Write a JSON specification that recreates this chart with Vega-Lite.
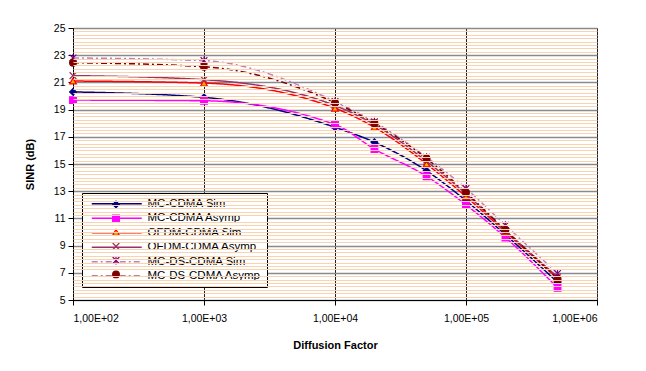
{
  "$schema": "https://vega.github.io/schema/vega-lite/v6.json",
  "width": 524,
  "height": 272,
  "autosize": {"type": "none"},
  "padding": {"left": 73, "top": 28, "right": 49, "bottom": 71},
  "background": "white",
  "config": {
    "font": "Liberation Sans",
    "view": {"stroke": "#808080", "strokeWidth": 1},
    "axis": {
      "labelFont": "Liberation Sans",
      "titleFont": "Liberation Sans",
      "labelColor": "#000000",
      "titleColor": "#000000",
      "labelFontSize": 10.5,
      "titleFontSize": 11,
      "titleFontWeight": "bold",
      "tickColor": "#000000",
      "domainColor": "#000000"
    }
  },
  "data": {
    "values": [
      {"s": "MC-CDMA Sim", "x": 100, "y": 20.3},
      {"s": "MC-CDMA Sim", "x": 1000, "y": 19.9},
      {"s": "MC-CDMA Sim", "x": 10000, "y": 17.7},
      {"s": "MC-CDMA Sim", "x": 20000, "y": 16.6},
      {"s": "MC-CDMA Sim", "x": 50000, "y": 14.5},
      {"s": "MC-CDMA Sim", "x": 100000, "y": 12.3},
      {"s": "MC-CDMA Sim", "x": 200000, "y": 9.8},
      {"s": "MC-CDMA Sim", "x": 500000, "y": 6.3},
      {"s": "MC-CDMA Asymp", "x": 100, "y": 19.7},
      {"s": "MC-CDMA Asymp", "x": 1000, "y": 19.65},
      {"s": "MC-CDMA Asymp", "x": 10000, "y": 17.9},
      {"s": "MC-CDMA Asymp", "x": 20000, "y": 16.1},
      {"s": "MC-CDMA Asymp", "x": 50000, "y": 14.1},
      {"s": "MC-CDMA Asymp", "x": 100000, "y": 12.0},
      {"s": "MC-CDMA Asymp", "x": 200000, "y": 9.6},
      {"s": "MC-CDMA Asymp", "x": 500000, "y": 5.9},
      {"s": "OFDM-CDMA Sim", "x": 100, "y": 21.1},
      {"s": "OFDM-CDMA Sim", "x": 1000, "y": 20.95},
      {"s": "OFDM-CDMA Sim", "x": 10000, "y": 19.1},
      {"s": "OFDM-CDMA Sim", "x": 20000, "y": 17.7},
      {"s": "OFDM-CDMA Sim", "x": 50000, "y": 15.0},
      {"s": "OFDM-CDMA Sim", "x": 100000, "y": 12.6},
      {"s": "OFDM-CDMA Sim", "x": 200000, "y": 10.0},
      {"s": "OFDM-CDMA Sim", "x": 500000, "y": 6.6},
      {"s": "OFDM-CDMA Asymp", "x": 100, "y": 21.5},
      {"s": "OFDM-CDMA Asymp", "x": 1000, "y": 21.2},
      {"s": "OFDM-CDMA Asymp", "x": 10000, "y": 19.3},
      {"s": "OFDM-CDMA Asymp", "x": 20000, "y": 17.9},
      {"s": "OFDM-CDMA Asymp", "x": 50000, "y": 15.2},
      {"s": "OFDM-CDMA Asymp", "x": 100000, "y": 12.8},
      {"s": "OFDM-CDMA Asymp", "x": 200000, "y": 10.1},
      {"s": "OFDM-CDMA Asymp", "x": 500000, "y": 6.7},
      {"s": "MC-DS-CDMA Sim", "x": 100, "y": 22.8},
      {"s": "MC-DS-CDMA Sim", "x": 1000, "y": 22.6},
      {"s": "MC-DS-CDMA Sim", "x": 10000, "y": 19.6},
      {"s": "MC-DS-CDMA Sim", "x": 20000, "y": 18.1},
      {"s": "MC-DS-CDMA Sim", "x": 50000, "y": 15.5},
      {"s": "MC-DS-CDMA Sim", "x": 100000, "y": 13.2},
      {"s": "MC-DS-CDMA Sim", "x": 200000, "y": 10.5},
      {"s": "MC-DS-CDMA Sim", "x": 500000, "y": 6.95},
      {"s": "MC-DS-CDMA Asymp", "x": 100, "y": 22.45},
      {"s": "MC-DS-CDMA Asymp", "x": 1000, "y": 22.15},
      {"s": "MC-DS-CDMA Asymp", "x": 10000, "y": 19.5},
      {"s": "MC-DS-CDMA Asymp", "x": 20000, "y": 18.0},
      {"s": "MC-DS-CDMA Asymp", "x": 50000, "y": 15.4},
      {"s": "MC-DS-CDMA Asymp", "x": 100000, "y": 12.9},
      {"s": "MC-DS-CDMA Asymp", "x": 200000, "y": 10.15},
      {"s": "MC-DS-CDMA Asymp", "x": 500000, "y": 6.55}
    ]
  },
  "resolve": {"axis": {"y": "independent", "x": "independent"}},
  "layer": [
    {
      "mark": {"type": "line", "strokeWidth": 1.5, "interpolate": "monotone"},
      "encoding": {
        "x": {
          "field": "x",
          "type": "quantitative",
          "scale": {"type": "log", "domain": [100, 1000000]},
          "axis": {
            "values": [100, 1000, 10000, 100000, 1000000],
            "labelExpr": "'1,00E+0' + round(log(datum.value) / LN10)",
            "grid": true,
            "gridColor": "#222222",
            "gridWidth": 1,
            "tickSize": 5,
            "labelPadding": 8,
            "title": "Diffusion Factor",
            "titleY": 39,
            "titleBaseline": "top"
          }
        },
        "y": {
          "field": "y",
          "type": "quantitative",
          "scale": {"domain": [5, 25], "nice": false, "zero": false},
          "axis": {
            "values": [5, 7, 9, 11, 13, 15, 17, 19, 21, 23, 25],
            "grid": true,
            "gridColor": "#8a8a8a",
            "gridWidth": 1.3,
            "tickSize": 5,
            "labelPadding": 3,
            "title": "SINR (dB)",
            "titleX": -43,
            "titleBaseline": "middle"
          }
        },
        "color": {
          "field": "s",
          "type": "nominal",
          "scale": {
            "domain": ["MC-CDMA Sim", "MC-CDMA Asymp", "OFDM-CDMA Sim", "OFDM-CDMA Asymp", "MC-DS-CDMA Sim", "MC-DS-CDMA Asymp"],
            "range": ["#000080", "#FF00FF", "#FF0000", "#993366", "#C080C0", "#800000"]
          },
          "legend": {
            "title": null,
            "orient": "none",
            "legendX": 9,
            "legendY": 165,
            "fillColor": "white",
            "strokeColor": "#000000",
            "padding": 5,
            "gridAlign": "all",
            "symbolType": "M-6.25,0H6.25",
            "symbolSize": 64,
            "symbolStrokeWidth": 1.5,
            "symbolOffset": 24,
            "labelFont": "Liberation Sans",
            "labelFontSize": 11.5,
            "labelColor": "#000000",
            "labelOffset": 25,
            "rowPadding": 1.5
          }
        },
        "strokeDash": {
          "field": "s",
          "type": "nominal",
          "scale": {
            "domain": ["MC-CDMA Sim", "MC-CDMA Asymp", "OFDM-CDMA Sim", "OFDM-CDMA Asymp", "MC-DS-CDMA Sim", "MC-DS-CDMA Asymp"],
            "range": [[1, 0], [1, 0], [1, 0], [1, 0], [6, 3, 2, 3], [6, 3, 2, 3]]
          }
        }
      }
    },
    {
      "mark": {"type": "point", "filled": false, "size": 45, "strokeWidth": 1.2, "opacity": 1},
      "encoding": {
        "x": {"field": "x", "type": "quantitative", "axis": null},
        "y": {
          "field": "y",
          "type": "quantitative",
          "axis": {
            "values": [5.25, 5.5, 5.75, 6, 6.25, 6.5, 6.75, 7.25, 7.5, 7.75, 8, 8.25, 8.5, 8.75, 9.25, 9.5, 9.75, 10, 10.25, 10.5, 10.75, 11.25, 11.5, 11.75, 12, 12.25, 12.5, 12.75, 13.25, 13.5, 13.75, 14, 14.25, 14.5, 14.75, 15.25, 15.5, 15.75, 16, 16.25, 16.5, 16.75, 17.25, 17.5, 17.75, 18, 18.25, 18.5, 18.75, 19.25, 19.5, 19.75, 20, 20.25, 20.5, 20.75, 21.25, 21.5, 21.75, 22, 22.25, 22.5, 22.75, 23.25, 23.5, 23.75, 24, 24.25, 24.5, 24.75],
            "grid": true,
            "gridColor": "#F9D3B0",
            "gridWidth": 1,
            "labels": false,
            "ticks": false,
            "domain": false,
            "title": null,
            "orient": "left",
            "zindex": -1
          }
        },
        "shape": {
          "field": "s",
          "type": "nominal",
          "scale": {
            "domain": ["MC-CDMA Sim", "MC-CDMA Asymp", "OFDM-CDMA Sim", "OFDM-CDMA Asymp", "MC-DS-CDMA Sim", "MC-DS-CDMA Asymp", "-"],
            "range": ["diamond", "square", "triangle-up", "M-1,-1L1,1M-1,1L1,-1", "M-1,-1L1,1M-1,1L1,-1M0,-1.2L0,1.2", "circle", "circle"]
          },
          "legend": {
            "title": null,
            "orient": "none",
            "legendX": 9,
            "legendY": 165,
            "values": ["MC-CDMA Sim", "MC-CDMA Asymp", "OFDM-CDMA Sim", "OFDM-CDMA Asymp", "MC-DS-CDMA Sim", "MC-DS-CDMA Asymp"],
            "padding": 7.4,
            "gridAlign": "all",
            "symbolSize": 45,
            "symbolStrokeWidth": 1.2,
            "symbolOffset": 22.6,
            "labelExpr": "''",
            "labelFontSize": 1,
            "labelOffset": 0,
            "rowPadding": 0
          }
        },
        "fill": {
          "field": "s",
          "type": "nominal",
          "scale": {
            "domain": ["MC-CDMA Sim", "MC-CDMA Asymp", "OFDM-CDMA Sim", "OFDM-CDMA Asymp", "MC-DS-CDMA Sim", "MC-DS-CDMA Asymp", "-"],
            "range": ["#000080", "#FF00FF", "#FFB000", "transparent", "transparent", "#800000", "transparent"]
          }
        },
        "stroke": {
          "field": "s",
          "type": "nominal",
          "scale": {
            "domain": ["MC-CDMA Sim", "MC-CDMA Asymp", "OFDM-CDMA Sim", "OFDM-CDMA Asymp", "MC-DS-CDMA Sim", "MC-DS-CDMA Asymp", "-"],
            "range": ["#000080", "#FF00FF", "#FF0000", "#993366", "#800080", "#800000", "transparent"]
          }
        }
      }
    }
  ]
}
